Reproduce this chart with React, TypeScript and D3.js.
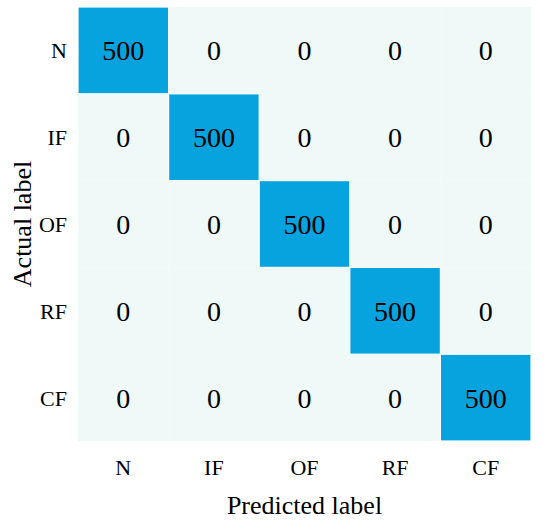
import React from 'react'
import * as d3 from 'd3'

// chart size and margins around the matrix
const width = 550
const height = 524
const margin = { top: 7, right: 19, bottom: 83, left: 78 }

const labels = ['N', 'IF', 'OF', 'RF', 'CF']
// rows = actual, columns = predicted
const matrix = [
    [500, 0, 0, 0, 0],
    [0, 500, 0, 0, 0],
    [0, 0, 500, 0, 0],
    [0, 0, 0, 500, 0],
    [0, 0, 0, 0, 500],
]

const font = 'Liberation Serif'

export default function App() {
    const x = d3
        .scaleBand()
        .domain(labels)
        .range([margin.left, width - margin.right])
    const y = d3
        .scaleBand()
        .domain(labels)
        .range([margin.top, height - margin.bottom])
    const color = d3
        .scaleLinear<string>()
        .domain([0, 500])
        .range(['#eff9f7', '#06a3de'])

    const cells = matrix.flatMap((row, i) =>
        row.map((v, j) => ({ row: labels[i], col: labels[j], v }))
    )

    return (
        <svg
            width={width}
            height={height}
            style={{ position: 'absolute', left: 0, top: 0 }}
        >
            <rect width={width} height={height} fill="#fff" />
            {/* cells */}
            {cells.map((d, i) => (
                <rect
                    key={i}
                    x={x(d.col)}
                    y={y(d.row)}
                    width={x.bandwidth()}
                    height={y.bandwidth()}
                    fill={color(d.v)}
                    stroke="#fff"
                    strokeWidth={d.v > 0 ? 1.2 : 0}
                />
            ))}
            {/* cell text */}
            {cells.map((d, i) => (
                <text
                    key={i}
                    x={x(d.col)! + x.bandwidth() / 2}
                    y={y(d.row)! + y.bandwidth() / 2 + 10}
                    textAnchor="middle"
                    style={{ fontFamily: font, fontSize: '28px' }}
                    fill="#000"
                >
                    {String(d.v)}
                </text>
            ))}
            {/* row tick labels */}
            {labels.map((l) => (
                <text
                    key={'r' + l}
                    x={margin.left - 11}
                    y={y(l)! + y.bandwidth() / 2 + 8}
                    textAnchor="end"
                    style={{ fontFamily: font, fontSize: '22px' }}
                >
                    {l}
                </text>
            ))}
            {/* column tick labels */}
            {labels.map((l) => (
                <text
                    key={'c' + l}
                    x={x(l)! + x.bandwidth() / 2}
                    y={height - margin.bottom + 34}
                    textAnchor="middle"
                    style={{ fontFamily: font, fontSize: '22px' }}
                >
                    {l}
                </text>
            ))}
            {/* axis titles */}
            <text
                x={(margin.left + width - margin.right) / 2}
                y={height - 10}
                textAnchor="middle"
                style={{ fontFamily: font, fontSize: '26px' }}
            >
                Predicted label
            </text>
            <text
                transform={`translate(31, ${(margin.top + height - margin.bottom) / 2}) rotate(-90)`}
                textAnchor="middle"
                style={{ fontFamily: font, fontSize: '26px' }}
            >
                Actual label
            </text>
        </svg>
    )
}
